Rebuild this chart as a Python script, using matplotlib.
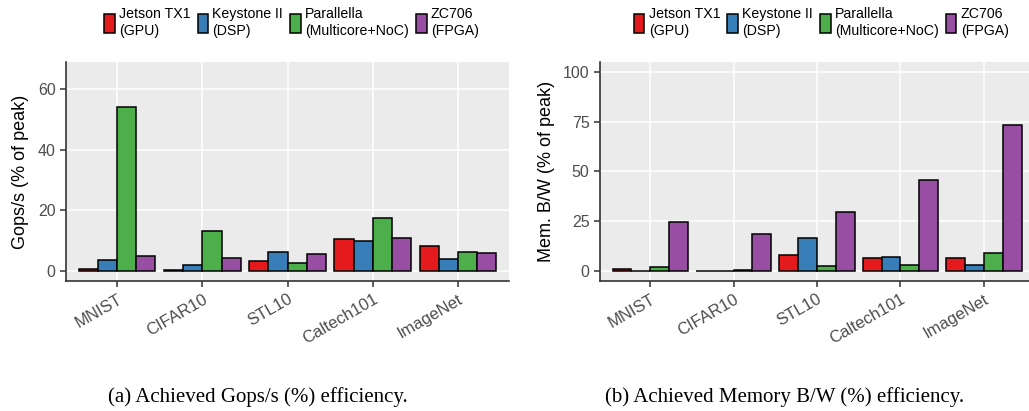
"""Achieved Gops/s and memory bandwidth efficiency per platform."""

import numpy as np
import matplotlib
matplotlib.use("Agg")
import matplotlib.pyplot as plt

#########
# Data  #
#########
datasets = ["MNIST", "CIFAR10", "STL10", "Caltech101", "ImageNet"]
platforms = ["Jetson TX1\n(GPU)", "Keystone II\n(DSP)",
             "Parallella\n(Multicore+NoC)", "ZC706\n(FPGA)"]
colors = ["#E41A1C", "#377EB8", "#4DAF4A", "#984EA3"]

# Gops/s (% of peak), one list per platform
gops_jetson = [0.6, 0.2, 3.3, 10.6, 8.2]
gops_keystone = [3.5, 2.1, 6.2, 9.8, 3.9]
gops_parallella = [54.0, 13.1, 2.6, 17.5, 6.1]
gops_zc706 = [4.8, 4.4, 5.5, 10.9, 6.0]

# Memory B/W (% of peak)
bw_jetson = [1.2, 0.2, 7.9, 6.4, 6.5]
bw_keystone = [0.2, 0.1, 16.6, 7.0, 3.2]
bw_parallella = [2.2, 0.5, 2.5, 3.2, 9.2]
bw_zc706 = [24.6, 18.8, 29.7, 45.5, 73.4]

gops_ticks = [0, 20, 40, 60]
bw_ticks = [0, 25, 50, 75, 100]

############
# Plotting #
############
plt.rcParams["font.family"] = ["Liberation Sans", "DejaVu Sans"]

BG = "#EBEBEB"
AXCOL = "#333333"
TICKCOL = "#4D4D4D"


def bar_panel(ax, series, ylim, yticks, ylabel):
    x = np.arange(1, len(datasets) + 1)
    width = 0.9 / len(series)
    handles = []
    for i, vals in enumerate(series):
        offs = (i - (len(series) - 1) / 2) * width
        h = ax.bar(x + offs, vals, width, color=colors[i],
                   edgecolor="black", linewidth=1.1, zorder=3)
        handles.append(h)

    ax.set_facecolor(BG)
    ax.set_xlim(0.4, len(datasets) + 0.6)
    ax.set_ylim(*ylim)
    ax.set_xticks(x)
    ax.set_xticklabels(datasets, rotation=30, ha="right",
                       rotation_mode="anchor", fontsize=12, color=TICKCOL)
    ax.set_yticks(yticks)
    ax.tick_params(axis="y", labelsize=11.5)
    ax.tick_params(colors=AXCOL, length=4, width=1.1, labelcolor=TICKCOL)
    ax.grid(True, color="white", linewidth=1.1, zorder=0)
    ax.set_axisbelow(True)
    for s in ["top", "right"]:
        ax.spines[s].set_visible(False)
    for s in ["left", "bottom"]:
        ax.spines[s].set_color(AXCOL)
        ax.spines[s].set_linewidth(1.2)
    ax.set_ylabel(ylabel, fontsize=13, labelpad=6)
    return handles


fig = plt.figure(figsize=(10.29, 4.11), dpi=100)
ax1 = fig.add_axes([0.0641, 0.3163, 0.4308, 0.5328])
ax2 = fig.add_axes([0.5831, 0.3163, 0.4218, 0.5328])

h1 = bar_panel(ax1, [gops_jetson, gops_keystone, gops_parallella, gops_zc706],
               (-3.3, 68.9), gops_ticks, "Gops/s (% of peak)")
h2 = bar_panel(ax2, [bw_jetson, bw_keystone, bw_parallella, bw_zc706],
               (-5.0, 104.9), bw_ticks, "Mem. B/W (% of peak)")

# Legends on top of each panel
for ax, handles, x0 in [(ax1, h1, 0.101), (ax2, h2, 0.616)]:
    fig.legend(handles, platforms, ncol=4, loc="upper left",
               bbox_to_anchor=(x0, 0.982), frameon=False, fontsize=10.2,
               handlelength=0.75, handleheight=1.7, handletextpad=0.3,
               columnspacing=0.5, borderpad=0, borderaxespad=0)

# Sub-captions
fig.text(0.251, 0.034, "(a) Achieved Gops/s (%) efficiency.",
         family="Liberation Serif", fontsize=15, ha="center", va="center")
fig.text(0.762, 0.034, "(b) Achieved Memory B/W (%) efficiency.",
         family="Liberation Serif", fontsize=15, ha="center", va="center")

fig.savefig("out.png", dpi=100)
